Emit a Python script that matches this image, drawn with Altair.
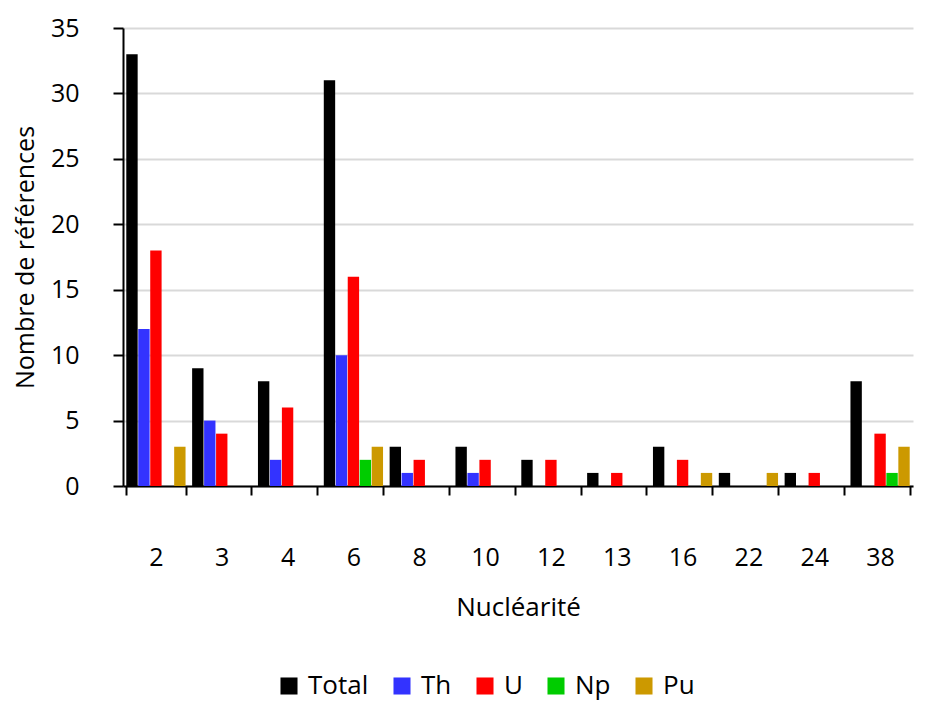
import altair as alt
import pandas as pd

categories = ["2", "3", "4", "6", "8", "10", "12", "13", "16", "22", "24", "38"]
total = [33, 9, 8, 31, 3, 3, 2, 1, 3, 1, 1, 8]
th = [12, 5, 2, 10, 1, 1, 0, 0, 0, 0, 0, 0]
u = [18, 4, 6, 16, 2, 2, 2, 1, 2, 0, 1, 4]
np_vals = [0, 0, 0, 2, 0, 0, 0, 0, 0, 0, 0, 1]
pu = [3, 0, 0, 3, 0, 0, 0, 0, 1, 1, 0, 3]

series = ["Total", "Th", "U", "Np", "Pu"]
colors = ["#000000", "#3333FF", "#FF0000", "#00CC00", "#CC9900"]
y_ticks = [0, 5, 10, 15, 20, 25, 30, 35]

values = {"Total": total, "Th": th, "U": u, "Np": np_vals, "Pu": pu}
rows = []
for s in series:
    for c, v in zip(categories, values[s]):
        rows.append({"Nucléarité": c, "Série": s, "Valeur": v})
df = pd.DataFrame(rows)

FONT = "Open Sans"

chart = alt.Chart(df).mark_bar().encode(
    x=alt.X(
        "Nucléarité:N",
        sort=categories,
        title="Nucléarité",
        scale=alt.Scale(paddingInner=0.1, paddingOuter=0.05),
        axis=alt.Axis(
            labelAngle=0, labelFontSize=25, titleFontSize=26, labelPadding=50,
            titlePadding=24, tickBand="extent", domainColor="black",
            domainWidth=2, tickColor="black", tickWidth=2, tickSize=9,
            titleFontWeight="normal", labelColor="black", titleColor="black",
            labelFont=FONT, titleFont=FONT,
        ),
    ),
    xOffset=alt.XOffset("Série:N", sort=series, scale=alt.Scale(paddingInner=0.05)),
    y=alt.Y(
        "Valeur:Q",
        title="Nombre de références",
        scale=alt.Scale(domain=[0, 35], nice=False),
        axis=alt.Axis(
            values=y_ticks, labelFontSize=25, titleFontSize=25, labelPadding=34,
            titlePadding=12, domainColor="black", domainWidth=2, tickColor="black",
            tickWidth=2, tickSize=10, gridColor="#D9D9D9", gridWidth=2,
            titleFontWeight="normal", labelColor="black", titleColor="black",
            labelFont=FONT, titleFont=FONT,
        ),
    ),
    color=alt.Color(
        "Série:N",
        sort=series,
        scale=alt.Scale(domain=series, range=colors),
        legend=alt.Legend(
            orient="none", legendX=153, legendY=645, direction="horizontal",
            title=None, symbolType="square", symbolSize=290, symbolStrokeWidth=0,
            labelFontSize=26, labelFont=FONT, labelColor="black",
            columnPadding=20, labelOffset=6,
        ),
    ),
).properties(
    width=790, height=458,
    padding={"left": 5, "top": 8, "right": 2, "bottom": 2},
).configure_view(stroke=None)

chart.save("out.html", embed_options={"renderer": "svg", "actions": False})
